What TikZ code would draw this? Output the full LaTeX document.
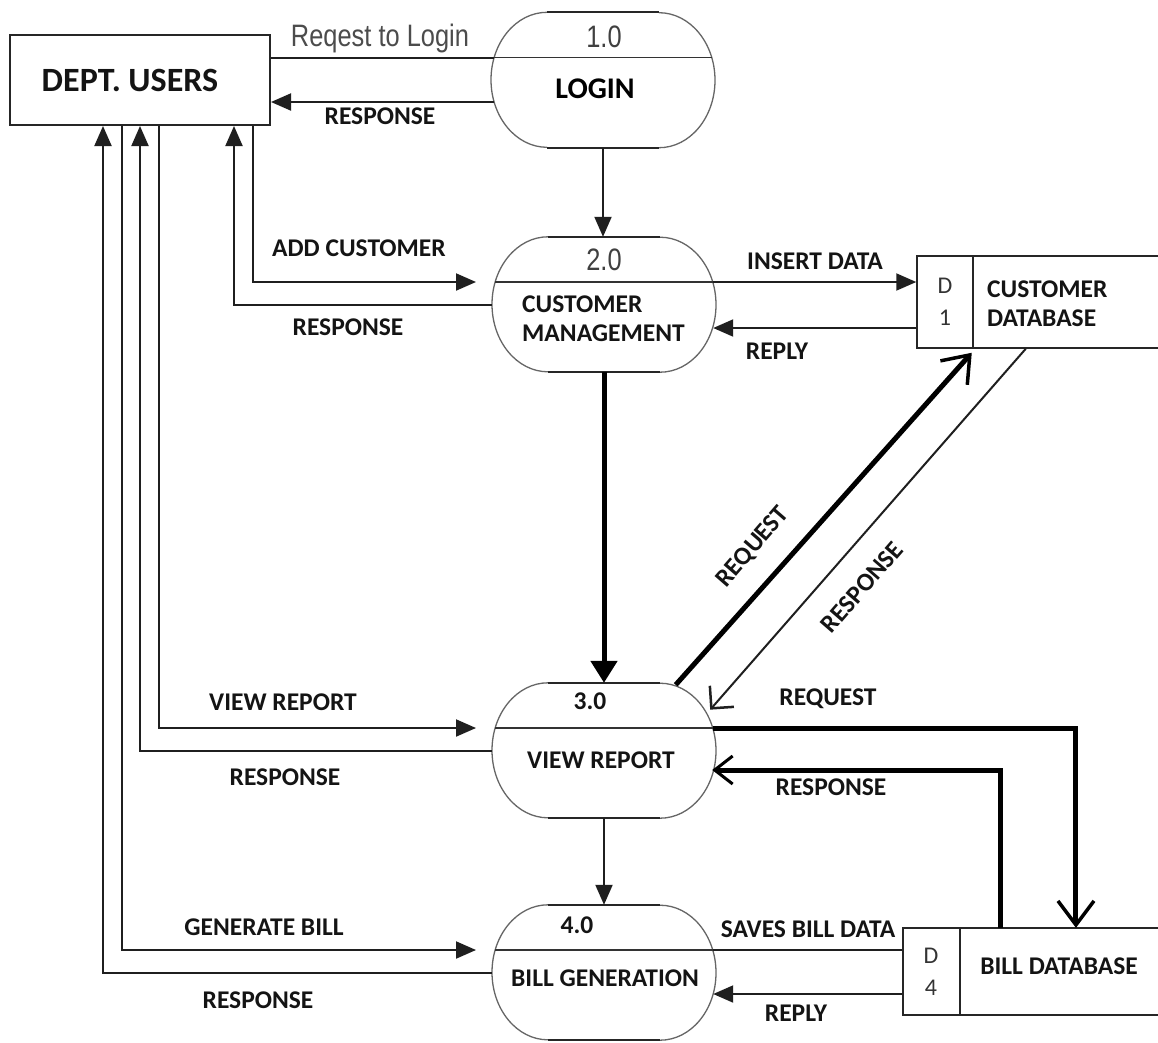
\documentclass[tikz,border=0pt]{standalone}
\usepackage{fontspec}
\setmainfont{Carlito}
\newfontfamily\narrowsans[FakeStretch=0.82]{Liberation Sans}
\usetikzlibrary{arrows.meta,calc}

\tikzset{
  proc/.style={minimum width=224pt, minimum height=135pt, inner sep=0pt},
  proccurve/.style={draw=black!60, line width=1.3pt},
  procflat/.style={draw=black!85, line width=1.7pt},
  divline/.style={draw=black!80, line width=1.6pt},
  entity/.style={draw=black!85, line width=2pt, minimum width=260pt,
    minimum height=90pt, inner sep=0pt},
  dstore/.style={draw=black!85, line width=1.5pt, inner sep=0pt},
  storeline/.style={draw=black!85, line width=1.5pt},
  flow/.style={draw=black!88, line width=2pt},
  heavy/.style={draw=black, line width=5pt},
  arrowtip/.style={-{Triangle[length=20pt,width=17pt]}},
  bigtip/.style={-{Triangle[length=22pt,width=26pt]}},
  openbarb/.style={-{Straight Barb[length=24pt,width=36pt,line width=3.5pt]}},
  smallbarb/.style={-{Straight Barb[length=18pt,width=28pt,line width=3pt]}},
  thinbarb/.style={-{Straight Barb[length=16pt,width=32pt,line width=2.5pt]}},
  lbl/.style={font=\fontsize{25.5}{30}\selectfont\bfseries, inner sep=0pt,
    text=black!92, anchor=base},
  big/.style={font=\fontsize{34}{40}\selectfont\bfseries, inner sep=0pt,
    text=black!92, anchor=base},
  num/.style={font=\narrowsans\fontsize{31}{36}\selectfont, inner sep=0pt,
    text=black!75, anchor=base},
  storetext/.style={font=\fontsize{24}{28}\selectfont, inner sep=0pt,
    text=black!80, anchor=base},
}

\begin{document}
\begin{tikzpicture}[x=1pt,y=-1pt]
\useasboundingbox (0,0) rectangle (1158,1042);
\fill[white] (0,0) rectangle (1158,1042);

% external entity and processes
\node[entity] (users) at (140,80) {};
\node[proc] (login) at (603,80) {};
\node[proc] (cm) at (604,304.5) {};
\node[proc] (vr) at (604,750.5) {};
\node[proc] (bg) at (604,972.5) {};

% process outlines: flat top and bottom, elliptic sides, and the divider
\foreach \p in {login,cm,vr,bg}{
  \draw[proccurve] ([xshift=-56pt]\p.north)
    arc[start angle=90, end angle=270, x radius=56pt, y radius=67.5pt];
  \draw[proccurve] ([xshift=56pt]\p.south)
    arc[start angle=-90, end angle=90, x radius=56pt, y radius=67.5pt];
  \draw[procflat] ([xshift=-56pt]\p.north) -- ([xshift=56pt]\p.north);
  \draw[procflat] ([xshift=-56pt]\p.south) -- ([xshift=56pt]\p.south);
  \coordinate (\p DL) at ([xshift=3.2pt,yshift=22.5pt]\p.west);
  \coordinate (\p DR) at ([xshift=-3.2pt,yshift=22.5pt]\p.east);
  \draw[divline] (\p DL) -- (\p DR);
}

% data stores
\node[dstore, minimum width=56pt, minimum height=92pt] (d1) at (945,302) {};
\node[anchor=west, minimum width=185pt, minimum height=92pt, inner sep=0pt] (cdb) at (d1.east) {};
\node[dstore, minimum width=57pt, minimum height=87pt] (d4) at (931.5,971.5) {};
\node[anchor=west, minimum width=198pt, minimum height=87pt, inner sep=0pt] (bdb) at (d4.east) {};
\draw[storeline] (cdb.north west) -- (cdb.north east) (cdb.south west) -- (cdb.south east);
\draw[storeline] (bdb.north west) -- (bdb.north east) (bdb.south west) -- (bdb.south east);

% texts in boxes and processes
\node[big] (tusers) at (130,91) {DEPT. USERS};
\node[num] (nlogin) at (604,47) {1.0};
\node[font=\fontsize{30}{36}\selectfont\bfseries, inner sep=0pt, anchor=base] (tlogin) at (595,98) {LOGIN};
\node[num] (ncm) at (604,270) {2.0};
\node[lbl, anchor=base west] (tcm1) at (522,312) {CUSTOMER};
\node[lbl, anchor=base west] (tcm2) at (522,341) {MANAGEMENT};
\node[lbl] (nvr) at (590,709) {3.0};
\node[lbl] (tvr) at (601,768) {VIEW REPORT};
\node[lbl] (nbg) at (577,933) {4.0};
\node[lbl] (tbg) at (605,986) {BILL GENERATION};
\node[storetext] (d1a) at (945,293) {D};
\node[storetext] (d1b) at (945,325) {1};
\node[lbl, anchor=base west] (tcdb1) at (987,297) {CUSTOMER};
\node[lbl, anchor=base west] (tcdb2) at (987,326) {DATABASE};
\node[storetext] (d4a) at (931,963) {D};
\node[storetext] (d4b) at (931,995) {4};
\node[lbl] (tbdb) at (1059,974) {BILL DATABASE};

% login flows
\coordinate (lgR) at ([xshift=3.2pt,yshift=-22pt]login.west);
\draw[flow] (users.east |- loginDL) -- (loginDL);
\draw[flow,arrowtip] (lgR) -- (users.east |- lgR);
\draw[flow,arrowtip] (login.south) -- (login.south |- cm.north);
\node[num, text=black!70] (lreq) at (380,46) {Reqest to Login};
\node[lbl] (lres1) at (380,124) {RESPONSE};

% customer management flows
\draw[flow,arrowtip] ([xshift=-18pt]users.south east) |- ([xshift=-19pt]cmDL);
\draw[flow,arrowtip] (cm.west) -| ([xshift=-37pt]users.south east);
\node[lbl] (ladd) at (359,256) {ADD CUSTOMER};
\node[lbl] (lres2) at (348,335) {RESPONSE};

\coordinate (cmR) at ([xshift=-3pt,yshift=-23.5pt]cm.east);
\draw[flow,arrowtip] (cmDR) -- (d1.west |- cmDR);
\draw[flow,arrowtip] (d1.west |- cmR) -- (cmR);
\node[lbl] (lins) at (815,269) {INSERT DATA};
\node[lbl] (lrep1) at (777,359) {REPLY};

\draw[heavy,bigtip] (cm.south) -- (cm.south |- vr.north);

% view report flows
\draw[flow,arrowtip] ([xshift=-112pt]users.south east) |- ([xshift=-19pt]vrDL);
\draw[flow,arrowtip] (vr.west) -| ([xshift=-131pt]users.south east);
\node[lbl] (lvr) at (283,710) {VIEW REPORT};
\node[lbl] (lres3) at (285,785) {RESPONSE};

\draw[heavy,openbarb] ([xshift=4pt,yshift=-2pt]vr.45) -- ([xshift=-2pt,yshift=-4pt]d1.south east);
\draw[flow,thinbarb] ([xshift=52pt]d1.south east) -- ([xshift=-6pt]vr.20);
\node[lbl, anchor=center, rotate=49] (lreqd) at (753,547) {REQUEST};
\node[lbl, anchor=center, rotate=49] (lresd) at (862,587) {RESPONSE};

\draw[heavy,openbarb] (vrDR) -| ([xshift=16pt]bdb.north);
\draw[heavy,smallbarb] ([xshift=-59pt]bdb.north) |- ([xshift=-4pt,yshift=-19.5pt]vr.east);
\node[lbl] (lreqb) at (828,705) {REQUEST};
\node[lbl] (lresb) at (831,795) {RESPONSE};

\draw[flow,arrowtip] (vr.south) -- (bg.north);

% bill generation flows
\draw[flow,arrowtip] ([xshift=-149pt]users.south east) |- ([xshift=-19pt]bgDL);
\draw[flow,arrowtip] (bg.west) -| ([xshift=-168pt]users.south east);
\node[lbl] (lgen) at (264,935) {GENERATE BILL};
\node[lbl] (lres4) at (258,1008) {RESPONSE};

\coordinate (bgR) at ([xshift=-3pt,yshift=-21.5pt]bg.east);
\draw[flow] (bgDR) -- (d4.west |- bgDR);
\draw[flow,arrowtip] (d4.west |- bgR) -- (bgR);
\node[lbl] (lsave) at (808,937) {SAVES BILL DATA};
\node[lbl] (lrep2) at (796,1021) {REPLY};
\end{tikzpicture}
\end{document}
